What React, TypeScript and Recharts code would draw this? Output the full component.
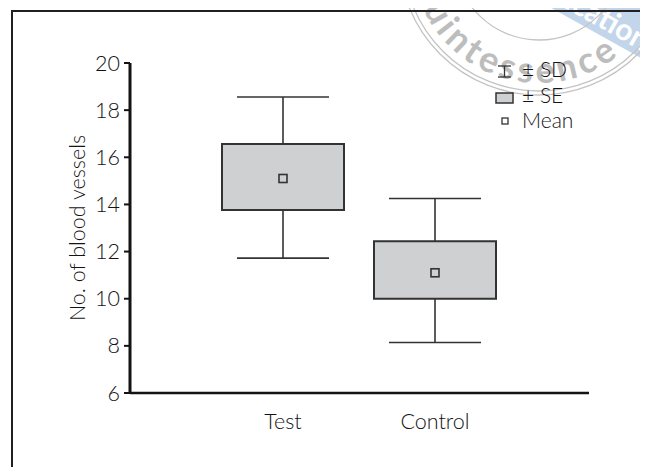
import React from 'react';
import { ComposedChart, Bar, Scatter, XAxis, YAxis, Legend } from 'recharts';

const categories = ['Test', 'Control'];
const means = [15.1, 11.1];
const seLow = [13.76, 10.0];
const seHigh = [16.56, 12.44];
const sdLow = [11.72, 8.14];
const sdHigh = [18.56, 14.25];
const yTicks = [6, 8, 10, 12, 14, 16, 18, 20];
const legendLabels = ['± SD', '± SE', 'Mean'];

const data = categories.map((name, i) => ({
  name,
  sd: [sdLow[i], sdHigh[i]],
  se: [seLow[i], seHigh[i]],
  mean: means[i],
}));

const INK = '#141213';
const LINE = '#333333';
const BOX_FILL = '#cfd0d2';
const FONT = 'Lato, "Noto Sans", sans-serif';
const FW = 300;
const FS = 21.5;

const Whisker = (props: any) => {
  const { x, y, width, height, payload } = props;
  if (x == null || y == null) return null;
  const top = Math.min(y, y + height);
  const h = Math.abs(height);
  const [lo, hi] = payload.sd;
  const [sLo, sHi] = payload.se;
  const k = h / (hi - lo);
  const yOf = (v: number) => top + (hi - v) * k;
  const cx = x + width / 2;
  return (
    <g stroke={LINE} strokeWidth={1.6} fill="none">
      <line x1={x} x2={x + width} y1={yOf(hi)} y2={yOf(hi)} />
      <line x1={x} x2={x + width} y1={yOf(lo)} y2={yOf(lo)} />
      <line x1={cx} x2={cx} y1={yOf(hi)} y2={yOf(sHi)} />
      <line x1={cx} x2={cx} y1={yOf(sLo)} y2={yOf(lo)} />
    </g>
  );
};

const MeanMark = (props: any) => {
  const { cx, cy } = props;
  if (cx == null || cy == null) return null;
  return <rect x={cx - 4} y={cy - 4} width={8} height={8} fill={BOX_FILL} stroke={LINE} strokeWidth={1.6} />;
};

const LegendContent = () => (
  <svg width={150} height={80} style={{ overflow: 'visible' }}>
    <g stroke={LINE} strokeWidth={1.3} fill="none">
      <line x1={18} x2={31} y1={11} y2={11} />
      <line x1={18} x2={31} y1={22} y2={22} />
      <line x1={24.5} x2={24.5} y1={11} y2={22} />
    </g>
    <rect x={16} y={38} width={17} height={10} fill={BOX_FILL} stroke={LINE} strokeWidth={1.5} />
    <rect x={22} y={63} width={6} height={6} fill="#fff" stroke={LINE} strokeWidth={1.3} />
    {legendLabels.map((t, i) => (
      <text key={t} x={42} y={22 + i * 25.5} fontFamily={FONT} fontWeight={FW} fontSize={FS - 0.5} fill={INK}>
        {t}
      </text>
    ))}
  </svg>
);

const Stamp = () => {
  const cx = 539;
  const cy = -45;
  const rb = 128;
  const arc = `M ${cx - rb} ${cy} A ${rb} ${rb} 0 0 0 ${cx + rb} ${cy}`;
  return (
    <svg width={648} height={467} style={{ position: 'absolute', left: 0, top: 0 }}>
      <defs>
        <path id="stampArc" d={arc} />
      </defs>
      <polygon points="537,0 648,62 648,0" fill="#c3d5ea" />
      <text
        x={511}
        y={-22}
        transform="rotate(29.2 511 -22)"
        fontFamily={FONT}
        fontWeight={700}
        fontSize={30}
        fill="#ffffff"
      >
        Publication
      </text>
      <g fill="none" stroke="#c4c4c4" strokeWidth={1.3}>
        <circle cx={cx} cy={cy} r={140} />
        <circle cx={cx} cy={cy} r={136} />
        <circle cx={cx} cy={cy} r={85} />
      </g>
      <text fontFamily={FONT} fontWeight={700} fontSize={36} fill="#bdbdbd">
        <textPath href="#stampArc" startOffset={23} textLength={263} lengthAdjust="spacing">
          Quintessence
        </textPath>
      </text>
    </svg>
  );
};

export default function App() {
  return (
    <div style={{ position: 'relative', width: 648, height: 467, margin: '-8px 0 0 -8px', overflow: 'hidden', background: '#fff' }}>
      <Stamp />
      <div style={{ position: 'absolute', left: 0, top: 0 }}>
        <ComposedChart
          width={648}
          height={467}
          data={data}
          margin={{ top: 63, right: 59, left: 0, bottom: 34 }}
        >
          <XAxis
            xAxisId="sd"
            dataKey="name"
            type="category"
            height={40}
            padding={{ left: 77, right: 78 }}
            axisLine={{ stroke: INK, strokeWidth: 2.6 }}
            tickLine={false}
            tickMargin={15}
            tick={{ fontSize: FS, fill: INK, fontFamily: FONT, fontWeight: FW }}
          />
          <XAxis xAxisId="se" dataKey="name" type="category" hide padding={{ left: 77, right: 78 }} />
          <YAxis
            type="number"
            domain={[6, 20]}
            ticks={yTicks}
            width={130}
            allowDataOverflow
            axisLine={{ stroke: INK, strokeWidth: 3 }}
            tickLine={{ stroke: INK, strokeWidth: 2 }}
            tickSize={6}
            tickMargin={4}
            tick={{ fontSize: FS, fill: INK, fontFamily: FONT, fontWeight: FW }}
            label={{
              value: 'No. of blood vessels',
              angle: -90,
              position: 'center',
              dx: 12,
              style: { fontSize: FS, fill: INK, fontFamily: FONT, fontWeight: FW },
            }}
          />
          <Legend
            layout="vertical"
            align="center"
            verticalAlign="middle"
            wrapperStyle={{ left: 480, top: 55, width: 150, height: 80 }}
            content={LegendContent}
          />
          <Bar xAxisId="sd" dataKey="sd" barSize={92} shape={Whisker} isAnimationActive={false} />
          <Bar
            xAxisId="se"
            dataKey="se"
            barSize={122}
            fill={BOX_FILL}
            stroke={LINE}
            strokeWidth={2}
            isAnimationActive={false}
          />
          <Scatter xAxisId="se" dataKey="mean" shape={MeanMark} isAnimationActive={false} />
        </ComposedChart>
      </div>
      <div
        style={{
          position: 'absolute',
          left: 11,
          top: 10,
          width: 700,
          height: 500,
          borderTop: `2px solid #231f20`,
          borderLeft: `2px solid #231f20`,
        }}
      />
    </div>
  );
}
